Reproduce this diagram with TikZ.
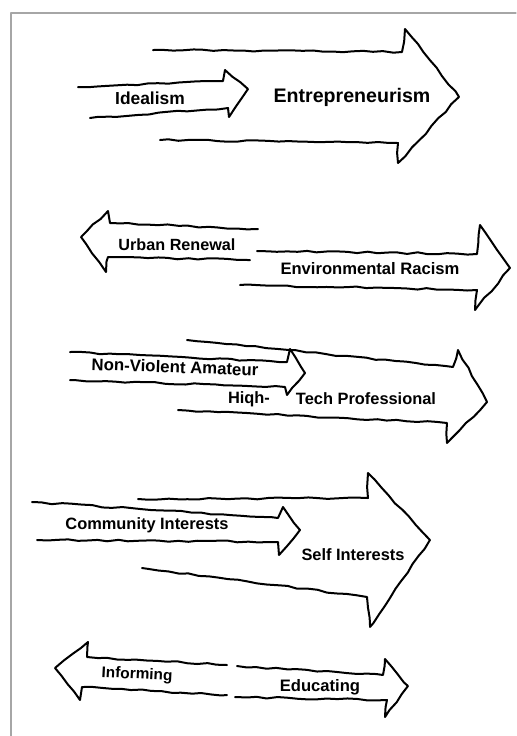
\documentclass[tikz,border=0pt]{standalone}
\usepackage{fontspec}
\setmainfont{Liberation Sans}
\usepackage{tikz}
\usetikzlibrary{decorations.pathmorphing}

\newcommand{\lbl}[1]{\fontsize{#1}{#1}\selectfont\bfseries}

\begin{document}
\begin{tikzpicture}[x=0.5pt,y=-0.5pt,line join=round,line cap=round,
        semithick]
        \tikzstyle{sketch}=[draw,line width=1pt,decorate,
          decoration={random steps,segment length=5pt,amplitude=0.45pt}]
        \tikzstyle{word}=[inner sep=0pt,anchor=center]
        \pgfmathsetseed{7}

        \useasboundingbox (0,0) rectangle (516,736);
        \draw[gray!70,line width=0.6pt] (11,736) -- (11,13) -- (516,13);

        % first row
        \path[sketch] (153,50) -- (402,52) -- (405,29) -- (459,97)
        -- (398,163) -- (398,143) -- (160,140);
        \path[sketch] (78,87) -- (223,81) -- (225,70) -- (248,89)
        -- (229,117) -- (228,108) -- (90,118);
        \node[word] (ideal) at (150,98) {\lbl{8.7}Idealism};
        \node[word] (entre) at (352,97) {\lbl{9.8}Entrepreneurism};

        % second row
        \path[sketch] (258,229) -- (110,223) -- (108,211) -- (81,237)
        -- (106,272) -- (108,257) -- (250,260);
        \path[sketch] (257,251) -- (477,254) -- (480,225) -- (510,268)
        -- (475,310) -- (477,290) -- (240,285);
        \node[word] (urban) at (177,245) {\lbl{8.1}Urban Renewal};
        \node[word] (envir) at (370,269) {\lbl{8.3}Environmental Racism};

        % third row
        \path[sketch] (187,340) -- (453,367) -- (458,350) -- (487,402)
        -- (447,443) -- (447,423) -- (178,410);
        \path[sketch] (70,352) -- (287,362) -- (290,349) -- (305,373)
        -- (287,395) -- (285,387) -- (70,380);
        \node[word,rotate=-2] (amat) at (175,367) {\lbl{8.4}Non-Violent Amateur};
        \node[word] (high) at (249,399) {\lbl{8.2}Hiqh-};
        \node[word] (prof) at (366,399) {\lbl{8.2}Tech Professional};

        % fourth row
        \path[sketch] (138,499) -- (368,498) -- (368,473) -- (430,540)
        -- (370,627) -- (367,597) -- (142,568);
        \path[sketch] (32,502) -- (278,518) -- (283,507) -- (300,530)
        -- (279,555) -- (278,542) -- (37,540);
        \node[word] (comm) at (147,525) {\lbl{8.2}Community Interests};
        \node[word] (self) at (353,555) {\lbl{8.2}Self Interests};

        % fifth row
        \path[sketch] (227,665) -- (87,657) -- (88,642) -- (55,668)
        -- (80,700) -- (82,687) -- (227,695);
        \path[sketch] (237,666) -- (383,675) -- (385,659) -- (408,686)
        -- (385,717) -- (387,700) -- (235,697);
        \node[word,rotate=-3] (inform) at (137,675) {\lbl{7.7}Informing};
        \node[word] (educ) at (320,687) {\lbl{8.3}Educating};
    \end{tikzpicture}
\end{document}
